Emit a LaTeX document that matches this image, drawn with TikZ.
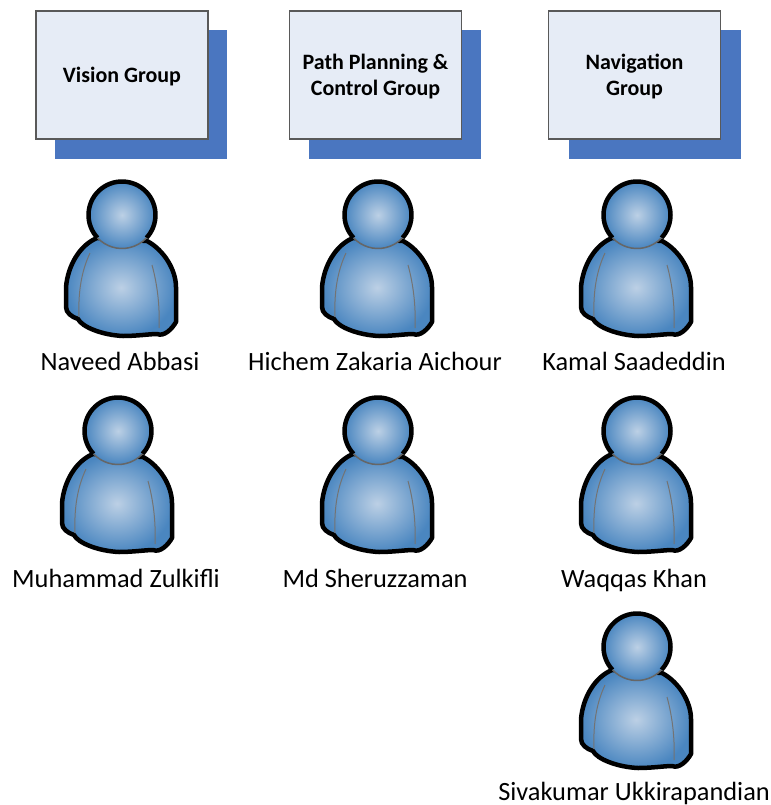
\documentclass[tikz,border=0pt]{standalone}
\usepackage{fontspec}
\setmainfont{Carlito}
\definecolor{boxfill}{HTML}{E6ECF6}
\definecolor{boxback}{HTML}{4A76C0}
\definecolor{personin}{HTML}{BCD0E5}
\definecolor{personout}{HTML}{4A86C0}
\tikzset{
    groupbox/.style={rectangle, draw=black!65, line width=0.03cm, fill=boxfill, minimum width=3.44cm, minimum height=2.56cm, align=center, text depth=0pt, font=\fontsize{12.5}{14.8}\selectfont\bfseries},
    backbox/.style={rectangle, fill=boxback, minimum width=3.46cm, minimum height=2.58cm},
    personname/.style={font=\fontsize{15}{16}\selectfont, inner sep=0pt, anchor=base},
    person/.pic={
        \draw[line width=0.09cm, line join=round, inner color=personin, outer color=personout]
            (-25,23) .. controls (-42,30) and (-54,50) .. (-56,72)
            -- (-56,92) .. controls (-56,98) and (-50,102) .. (-44,104)
            .. controls (-40,112) and (-20,120) .. (1,121)
            .. controls (15,121) and (28,119) .. (35,119)
            .. controls (42,122) and (50,114) .. (54,107)
            -- (54,72) .. controls (54,55) and (42,35) .. (25,26)
            -- cycle;
        \fill[inner color=personin, outer color=personout] (0,0) circle [radius=0.67cm];
        \draw[line width=0.09cm] (223:0.67cm) arc [start angle=223, end angle=-43, radius=0.67cm];
        \draw[black!60, line width=0.03cm] (223:0.67cm) arc [start angle=223, end angle=317, radius=0.67cm];
        \draw[black!55, line width=0.02cm] (-32,38) .. controls (-40,55) and (-44,75) .. (-43,102);
        \draw[black!55, line width=0.02cm] (30,50) .. controls (35,68) and (38,90) .. (37,113);
    }
}
\begin{document}
\begin{tikzpicture}[x=0.02cm, y=-0.02cm]
    \useasboundingbox (0,0) rectangle (771,805);

    % Groups
    \node[backbox] (visionback) at (141,94.5) {};
    \node[backbox] (pathback) at (395,94.5) {};
    \node[backbox] (navback) at (655,94.5) {};
    \node[groupbox] (vision) at (122,75) {Vision Group};
    \node[groupbox] (path) at (375.5,75) {Path Planning \&\\Control Group};
    \node[groupbox] (nav) at (634.5,75) {Navigation\\Group};

    % People
    \pic (naveed) at (122,215) {person};
    \pic (hichem) at (378,215) {person};
    \pic (kamal) at (637,215) {person};
    \pic (muhammad) at (118,431) {person};
    \pic (sheruz) at (378,431) {person};
    \pic (waqqas) at (637,431) {person};
    \pic (siva) at (637,647) {person};

    % Names
    \node[personname] (naveedname) at (120,370) {Naveed Abbasi};
    \node[personname] (hichemname) at (375,370) {Hichem Zakaria Aichour};
    \node[personname] (kamalname) at (634,370) {Kamal Saadeddin};
    \node[personname] (muhammadname) at (116,587) {Muhammad Zulkifli};
    \node[personname] (sheruzname) at (375,587) {Md Sheruzzaman};
    \node[personname] (waqqasname) at (634,587) {Waqqas Khan};
    \node[personname] (sivaname) at (634,800) {Sivakumar Ukkirapandian};
\end{tikzpicture}
\end{document}
